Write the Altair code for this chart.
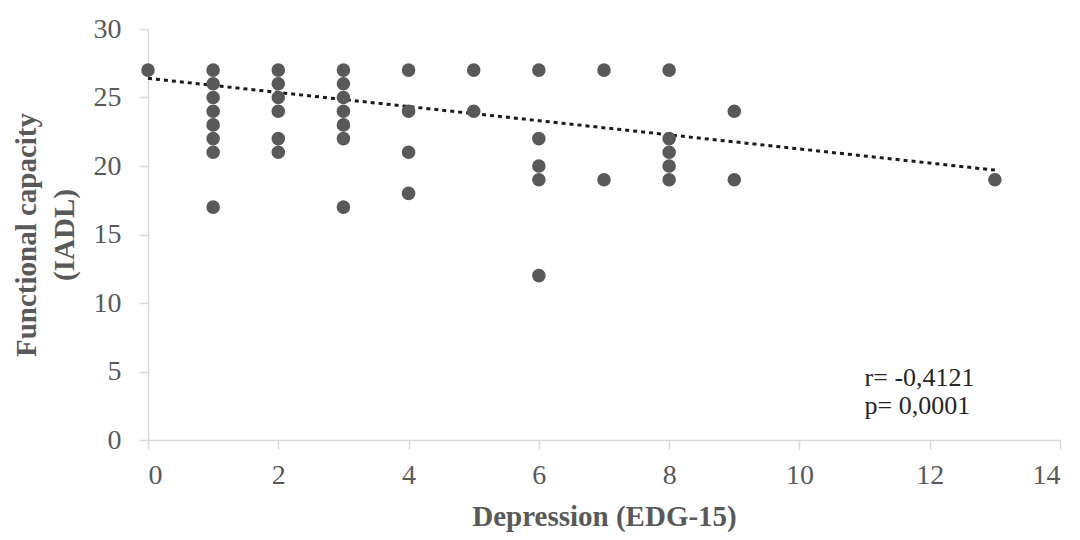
import altair as alt
import pandas as pd

# Data
depression = [0,
              1, 1, 1, 1, 1, 1, 1, 1,
              2, 2, 2, 2, 2, 2,
              3, 3, 3, 3, 3, 3, 3,
              4, 4, 4, 4,
              5, 5,
              6, 6, 6, 6, 6,
              7, 7,
              8, 8, 8, 8, 8,
              9, 9,
              13]
functional = [27,
              27, 26, 25, 24, 23, 22, 21, 17,
              27, 26, 25, 24, 22, 21,
              27, 26, 25, 24, 23, 22, 17,
              27, 24, 21, 18,
              27, 24,
              27, 22, 20, 19, 12,
              27, 19,
              27, 22, 21, 20, 19,
              24, 19,
              19]

trend_x = [0, 13]
trend_y = [26.4, 19.7]

annot_text = ["r= -0,4121", "p= 0,0001"]
annot_x = [11.0, 11.0]
annot_y = [4.5, 2.5]

x_ticks = [0, 2, 4, 6, 8, 10, 12, 14]
y_ticks = [0, 5, 10, 15, 20, 25, 30]

pts = pd.DataFrame({"x": depression, "y": functional})
trend = pd.DataFrame({"x": trend_x, "y": trend_y})
annot = pd.DataFrame({"x": annot_x, "y": annot_y, "t": annot_text})

FONT = "Liberation Serif"
GRAY = "#595959"

xscale = alt.Scale(domain=[0, 14], nice=False, zero=False)
yscale = alt.Scale(domain=[0, 30], nice=False)

xaxis = alt.Axis(values=x_ticks, format="d", title="Depression (EDG-15)", grid=False,
                 labelFontSize=28, titleFontSize=29, labelPadding=12,
                 titlePadding=13, tickSize=9)
yaxis = alt.Axis(values=y_ticks, format="d", title=["Functional  capacity", "(IADL)"],
                 grid=False, labelFontSize=28, titleFontSize=29,
                 labelPadding=18, titlePadding=14, tickSize=9,
                 titleLineHeight=38)

points = alt.Chart(pts).mark_circle(size=185, color=GRAY, opacity=1).encode(
    x=alt.X("x:Q", scale=xscale, axis=xaxis),
    y=alt.Y("y:Q", scale=yscale, axis=yaxis),
)

line = alt.Chart(trend).mark_line(color="#1a1a1a", strokeWidth=3,
                                  strokeDash=[4, 4]).encode(
    x=alt.X("x:Q", scale=xscale),
    y=alt.Y("y:Q", scale=yscale),
)

text = alt.Chart(annot).mark_text(align="left", baseline="middle",
                                  font=FONT, fontSize=26, color="#262626").encode(
    x=alt.X("x:Q", scale=xscale),
    y=alt.Y("y:Q", scale=yscale),
    text="t:N",
)

chart = alt.layer(line, points, text).properties(
    width=912, height=411,
    autosize=alt.AutoSizeParams(type="none"),
    padding={"left": 140, "top": 21, "right": 12, "bottom": 92},
).configure_view(stroke=None).configure_axis(
    domainColor="#d9d9d9", domainWidth=1.5, tickColor="#d9d9d9", tickWidth=1.5,
    labelFont=FONT, titleFont=FONT, labelColor=GRAY, titleColor=GRAY,
    titleFontWeight="bold",
)

chart.save("out.html", embed_options={"renderer": "svg", "actions": False})
